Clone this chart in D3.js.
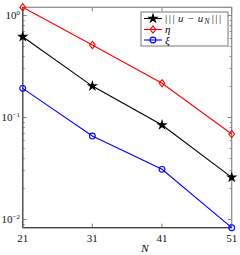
<!DOCTYPE html>
<html><head><meta charset="utf-8">
<script src="https://cdn.jsdelivr.net/npm/d3@7/dist/d3.min.js"></script>
<style>body{margin:0;background:#fff}svg{display:block}text{font-family:"Liberation Serif","Times New Roman","DejaVu Serif",serif}</style>
</head><body>
<script>
const N = [21, 31, 41, 51];
const errNorm = [0.613, 0.201, 0.0835, 0.0256];
const eta = [1.19, 0.508, 0.214, 0.0681];
const xi = [0.191, 0.0651, 0.0307, 0.00822];
const xTicks = [21, 31, 41, 51];
const yTicks = [1, 0.1, 0.01];
const yTickExp = ["0", "\u22121", "\u22122"];

const W = 240, H = 255;
const svg = d3.select("body").append("svg").attr("width", W).attr("height", H);
const x = d3.scaleLinear().domain([21, 51]).range([22.7, 231.7]);
const allY = errNorm.concat(eta, xi);
const y = d3.scaleLog().domain([d3.min(allY), d3.max(allY)]).range([227.7, 7.3]);

const [x0, x1] = x.range();
const [yb, yt] = y.range();
const axisCol = "#666";

const minor = [];
for (let e = -3; e <= 0; e++) for (let k = 1; k <= 9; k++) {
  const v = k * Math.pow(10, e);
  if (v >= y.domain()[0] && v <= y.domain()[1]) minor.push({v, major: k === 1});
}
const g = svg.append("g");
minor.forEach(m => {
  const len = m.major ? 4 : 2;
  const yy = Math.round(y(m.v)) + 0.5;
  g.append("line").attr("x1", x0).attr("x2", x0 + len).attr("y1", yy).attr("y2", yy).attr("stroke", axisCol).attr("stroke-width", 0.8);
  g.append("line").attr("x1", x1).attr("x2", x1 - len).attr("y1", yy).attr("y2", yy).attr("stroke", axisCol).attr("stroke-width", 0.8);
});
xTicks.forEach(t => {
  const xx = x(t);
  g.append("line").attr("x1", xx).attr("x2", xx).attr("y1", yb).attr("y2", yb - 4).attr("stroke", axisCol).attr("stroke-width", 0.8);
  g.append("line").attr("x1", xx).attr("x2", xx).attr("y1", yt).attr("y2", yt + 4).attr("stroke", axisCol).attr("stroke-width", 0.8);
  svg.append("text").attr("x", xx).attr("y", 242).attr("text-anchor", "middle").attr("font-size", 11).attr("fill", "#111").text(t);
});
svg.append("rect").attr("x", x0).attr("y", yt).attr("width", x1 - x0).attr("height", yb - yt)
  .attr("fill", "none").attr("stroke", "#888").attr("stroke-width", 1.2);
svg.append("line").attr("x1", x0).attr("x2", x1).attr("y1", yb).attr("y2", yb).attr("stroke", "#444").attr("stroke-width", 1.2);
svg.append("line").attr("x1", x0).attr("x2", x0).attr("y1", yt).attr("y2", yb).attr("stroke", "#555").attr("stroke-width", 1.4);

yTicks.forEach((t, i) => {
  const tx = svg.append("text").attr("x", 20).attr("y", y(t)).attr("dy", "0.35em").attr("text-anchor", "end").attr("font-size", 11).attr("fill", "#111");
  tx.append("tspan").text("10");
  tx.append("tspan").attr("font-size", 7).attr("dy", "-0.6em").text(yTickExp[i]);
});

svg.append("text").attr("x", 145).attr("y", 252).attr("text-anchor", "middle").attr("font-size", 11).attr("font-style", "italic").text("N");

const series = [
  {vals: errNorm, color: "#000", sym: "star"},
  {vals: eta, color: "#ff0000", sym: "diamond"},
  {vals: xi, color: "#0000ff", sym: "circle"}
];
const line = d3.line().x((d, i) => x(N[i])).y(d => y(d));
function marker(sel, s, cx, cy) {
  if (s.sym === "star") {
    sel.append("path").attr("d", d3.symbol(d3.symbolStar, 40)()).attr("transform", `translate(${cx},${cy})`).attr("fill", s.color);
  } else if (s.sym === "diamond") {
    sel.append("path").attr("d", "M0,-3.6L2.8,0L0,3.6L-2.8,0Z").attr("transform", `translate(${cx},${cy})`).attr("fill", "none").attr("stroke", s.color).attr("stroke-width", 1.1);
  } else {
    sel.append("circle").attr("cx", cx).attr("cy", cy).attr("r", 2.9).attr("fill", "none").attr("stroke", s.color).attr("stroke-width", 1.1);
  }
}
series.forEach(s => {
  svg.append("path").attr("d", line(s.vals)).attr("fill", "none").attr("stroke", s.color).attr("stroke-width", 1.1);
  s.vals.forEach((v, i) => marker(svg, s, x(N[i]), y(v)));
});

const lg = svg.append("g");
lg.append("rect").attr("x", 141).attr("y", 12).attr("width", 87).attr("height", 34).attr("fill", "#fff").attr("stroke", "#777").attr("stroke-width", 1);
const ly = [18.5, 29.5, 40];
series.forEach((s, i) => {
  lg.append("line").attr("x1", 144).attr("x2", 162).attr("y1", ly[i]).attr("y2", ly[i]).attr("stroke", s.color).attr("stroke-width", 1.1);
  marker(lg, s, 153, ly[i]);
});
const t0 = lg.append("text").attr("x", 165).attr("y", ly[0]).attr("dy", "0.35em").attr("font-size", 11).attr("fill", "#222");
t0.append("tspan").attr("letter-spacing", 1.5).text("|||");
t0.append("tspan").attr("font-style", "italic").attr("dx", 2).text("u");
t0.append("tspan").attr("dx", 4).text("\u2212");
t0.append("tspan").attr("font-style", "italic").attr("dx", 4).text("u");
t0.append("tspan").attr("font-style", "italic").attr("font-size", 8).attr("dy", 2).attr("dx", 1).text("N");
t0.append("tspan").attr("dy", -2).attr("dx", 2).attr("letter-spacing", 1.5).text("|||");
lg.append("text").attr("x", 165).attr("y", ly[1]).attr("dy", "0.35em").attr("font-size", 11).attr("font-style", "italic").text("\u03b7");
lg.append("text").attr("x", 165).attr("y", ly[2]).attr("dy", "0.35em").attr("font-size", 11).attr("font-style", "italic").text("\u03be");
</script>
</body></html>
